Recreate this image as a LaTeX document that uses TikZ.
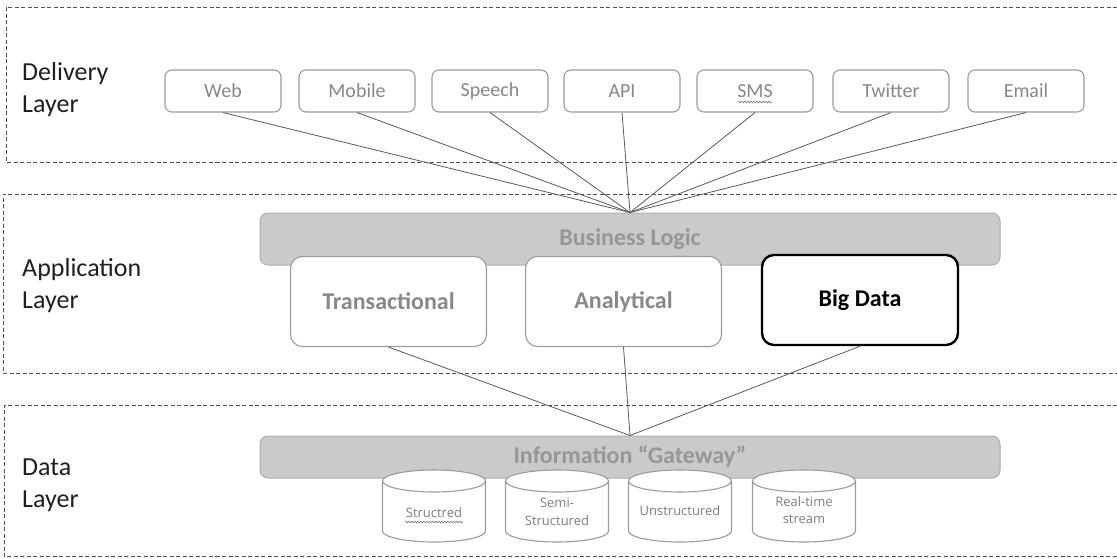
\documentclass[tikz,border=0pt]{standalone}
\usepackage{fontspec}
\setmainfont{Carlito}
\newfontfamily\storefont{Open Sans}
\usetikzlibrary{decorations.pathmorphing}

\definecolor{layerline}{HTML}{505050}
\definecolor{boxline}{HTML}{9C9C9C}
\definecolor{boxtext}{HTML}{888888}
\definecolor{barfill}{HTML}{CACACA}
\definecolor{barline}{HTML}{ADADAD}
\definecolor{bartext}{HTML}{979797}
\definecolor{wirecol}{HTML}{5A5A5A}
\definecolor{storetext}{HTML}{7E7E7E}
\definecolor{spellcol}{HTML}{7A7A6A}

\begin{document}
\begin{tikzpicture}[x=1pt,y=-1pt,
  layer/.style={draw=layerline, line width=0.8pt, dash pattern=on 4pt off 2.5pt},
  layerlabel/.style={anchor=west, align=left, inner sep=0,
    font=\fontsize{26}{32}\selectfont, text=black!88},
  channel/.style={draw=boxline, fill=white, line width=1.1pt, rounded corners=7pt,
    minimum width=116pt, minimum height=42pt, inner sep=0,
    font=\fontsize{20}{24}\selectfont, text=boxtext},
  bar/.style={draw=barline, fill=barfill, line width=1pt, rounded corners=8pt,
    minimum width=740pt, inner sep=0,
    font=\fontsize{24}{28}\selectfont\bfseries, text=bartext},
  app/.style={draw=boxline, fill=white, line width=1.1pt, rounded corners=12pt,
    minimum width=196pt, minimum height=90pt, inner sep=0,
    font=\fontsize{24}{28}\selectfont\bfseries, text=boxtext},
  bigapp/.style={app, draw=black, line width=2.4pt, text=black},
  store/.style={draw=boxline, fill=white, line width=1.1pt},
  storelabel/.style={align=center, inner sep=0,
    font=\storefont\fontsize{13}{17.5}\selectfont, text=storetext},
  wire/.style={draw=wirecol, line width=0.8pt},
  spell/.style={draw=spellcol, line width=0.6pt, decorate,
    decoration={snake, amplitude=0.9pt, segment length=3pt}}
]
\useasboundingbox (0,0) rectangle (1117,559);

% the three layers, open to the right
\draw[layer] (1117,7) -- (6,7) -- (6,162) -- (1117,162);
\draw[layer] (1117,194) -- (3,194) -- (3,373) -- (1117,373);
\draw[layer] (1117,405) -- (4,405) -- (4,556) -- (1117,556);

\node[layerlabel] (deliverylabel) at (22,90) {Delivery\\Layer};
\node[layerlabel] (applabel) at (22,286) {Application\\Layer};
\node[layerlabel] (datalabel) at (22,485) {Data\\Layer};

% delivery channels
\node[channel] (web)     at (223,91)  {Web};
\node[channel] (mobile)  at (357,91)  {Mobile};
\node[channel] (speech)  at (490,91)  {Speech};
\node[channel] (api)     at (622,91)  {API};
\node[channel] (sms)     at (755,91)  {SMS};
\node[channel] (twitter) at (891,91)  {Twitter};
\node[channel] (email)   at (1026,91) {Email};
\draw[spell] ([xshift=-17pt,yshift=-11pt]sms.center) -- ([xshift=17pt,yshift=-11pt]sms.center);

% application layer
\node[bar, minimum height=52pt] (logic) at (630,239) {Business Logic};
\node[app]    (trans) at (388.5,301.5) {Transactional};
\node[app]    (anal)  at (623.5,301.5) {Analytical};
\node[bigapp] (big)   at (860,300)     {Big Data};

% data layer
\node[bar, minimum height=42pt] (gateway) at (630,457) {Information “Gateway”};
\foreach \cx in {434,557,680,804}{
  \path[store] (\cx-51.5,481) -- (\cx-51.5,531)
    arc[start angle=180, end angle=360, x radius=51.5pt, y radius=11pt]
    -- (\cx+51.5,481)
    arc[start angle=0, end angle=180, x radius=51.5pt, y radius=11pt] -- cycle;
  \draw[store, fill=none] (\cx+51.5,481)
    arc[start angle=0, end angle=-180, x radius=51.5pt, y radius=11pt];
}
\node[storelabel] (structured) at (434,513) {Structred};
\node[storelabel] (semi)       at (557,512) {Semi-\\Structured};
\node[storelabel] (unstruct)   at (680,511) {Unstructured};
\node[storelabel] (realtime)   at (804,510) {Real-time\\stream};
\draw[spell] ([xshift=-29pt,yshift=-9pt]structured.center) -- ([xshift=29pt,yshift=-9pt]structured.center);

% connectors
\foreach \ch in {web,mobile,speech,api,sms,twitter,email}
  \draw[wire] (\ch.south) -- (logic.north);
\foreach \ap in {trans,anal,big}
  \draw[wire] (\ap.south) -- (gateway.north);
\end{tikzpicture}
\end{document}
